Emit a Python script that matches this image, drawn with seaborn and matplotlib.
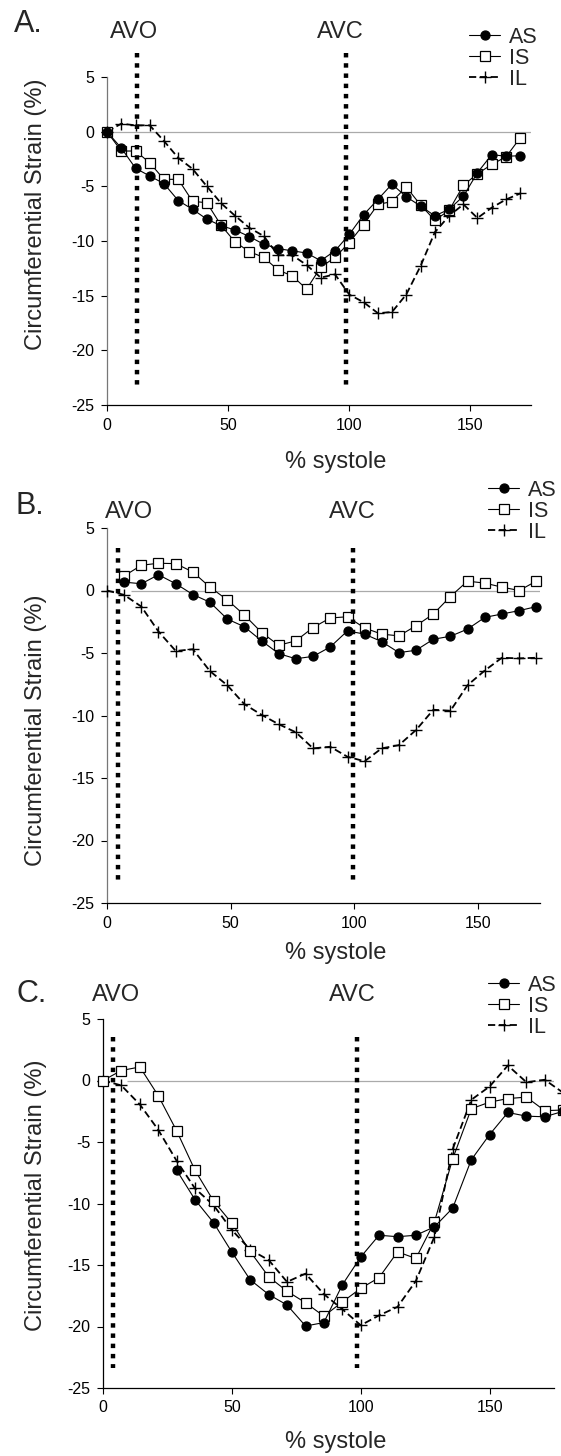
import numpy as np
import pandas as pd
import matplotlib
matplotlib.use('Agg')
import matplotlib.pyplot as plt
import seaborn as sns

nan = np.nan

# ---- data (% systole vs circumferential strain %) ----
x_a = [0, 5.9, 11.8, 17.6, 23.5, 29.4, 35.3, 41.2, 47.1, 52.9, 58.8, 64.7, 70.6, 76.5, 82.4,
       88.2, 94.1, 100, 105.9, 111.8, 117.6, 123.5, 129.4, 135.3, 141.2, 147.1, 152.9, 158.8,
       164.7, 170.6]
as_a = [0, -1.5, -3.35, -4.05, -4.75, -6.3, -7.1, -8.0, -8.6, -9.0, -9.6, -10.3, -10.7, -10.9,
        -11.1, -11.8, -10.9, -9.4, -7.6, -6.2, -4.8, -5.95, -6.8, -7.7, -7.1, -5.9, -3.75, -2.1,
        -2.25, -2.2]
is_a = [0, -1.77, -1.77, -2.84, -4.36, -4.36, -6.37, -6.5, -8.57, -10.1, -10.98, -11.5, -12.65,
        -13.2, -14.4, -12.4, -11.5, -10.15, -8.5, -6.65, -6.4, -5.06, -6.7, -8.1, -7.2, -4.9,
        -3.85, -3.0, -2.3, -0.55]
il_a = [0, 0.73, 0.58, 0.58, -0.85, -2.4, -3.4, -5.0, -6.55, -7.7, -8.8, -9.55, -11.3, -11.3,
        -12.2, -13.35, -13.05, -14.9, -15.6, -16.6, -16.5, -14.9, -12.3, -9.2, -7.7, -6.65, -7.9,
        -6.95, -6.2, -5.65]

x_b = [0, 6.9, 13.9, 20.8, 27.8, 34.7, 41.6, 48.6, 55.5, 62.5, 69.4, 76.3, 83.3, 90.2, 97.2,
       104.1, 111.0, 118.0, 124.9, 131.9, 138.8, 145.7, 152.7, 159.6, 166.6, 173.5]
as_b = [nan, 0.67, 0.54, 1.26, 0.54, -0.32, -0.94, -2.28, -2.9, -4.03, -5.05, -5.46, -5.27, -4.52,
        -3.23, -3.49, -4.09, -4.97, -4.78, -3.9, -3.66, -3.09, -2.15, -1.88, -1.61, -1.29]
is_b = [nan, 1.16, 2.02, 2.18, 2.15, 1.48, 0.27, -0.75, -1.96, -3.36, -4.38, -4.03, -2.96, -2.2,
        -2.1, -3.0, -3.49, -3.63, -2.82, -1.88, -0.48, 0.75, 0.59, 0.27, 0.0, 0.75]
il_b = [0, -0.35, -1.29, -3.28, -4.84, -4.7, -6.45, -7.58, -9.09, -9.95, -10.7, -11.34, -12.63,
        -12.5, -13.3, -13.66, -12.63, -12.37, -11.16, -9.54, -9.62, -7.58, -6.4, -5.38, -5.43,
        -5.38]

x_c = [0, 7.1, 14.3, 21.4, 28.6, 35.7, 42.9, 50.0, 57.1, 64.3, 71.4, 78.6, 85.7, 92.9, 100.0,
       107.1, 114.3, 121.4, 128.6, 135.7, 142.9, 150.0, 157.1, 164.3, 171.4, 178.6]
as_c = [nan, nan, nan, nan, -7.3, -9.69, -11.56, -13.95, -16.2, -17.4, -18.25, -19.96, -19.68,
        -16.6, -14.35, -12.58, -12.7, -12.58, -11.9, -10.37, -6.45, -4.4, -2.6, -2.9, -2.95, -2.5]
is_c = [0, 0.81, 1.1, -1.22, -4.1, -7.3, -9.8, -11.6, -13.9, -15.96, -17.13, -18.07, -19.16,
        -18.0, -16.9, -16.03, -13.93, -14.47, -11.5, -6.36, -2.3, -1.76, -1.47, -1.35, -2.45, -2.4]
il_c = [0, -0.4, -1.95, -4.0, -6.54, -8.78, -10.14, -12.15, -13.75, -14.6, -16.37, -15.7, -17.37,
        -18.6, -19.9, -19.1, -18.4, -16.3, -12.7, -5.57, -1.57, -0.49, 1.22, -0.14, 0.06, -1.0]

panel_labels = ['A.', 'B.', 'C.']
series_names = ['AS', 'IS', 'IL']
avo_x = [12.5, 4.3, 3.75]
avc_x = [98.8, 99.4, 98.7]
y_ticks = [-25, -20, -15, -10, -5, 0, 5]
x_ticks = [0, 50, 100, 150]

sns.set_style('ticks')
plt.rcParams['font.family'] = ['Liberation Sans', 'DejaVu Sans']
plt.rcParams['axes.unicode_minus'] = False

W, H = 561, 1456
fig = plt.figure(figsize=(W / 100, H / 100), dpi=100)


def box(l, r, t, b):
    return [l / W, 1 - b / H, (r - l) / W, (b - t) / H]


# pixel boxes of the three plot areas (left, right, y=5, y=-25)
boxes = [box(107, 531, 77, 405), box(107, 540, 528, 903), box(103, 554, 1019, 1388)]
# text anchors in pixels
label_xy = [(14, 24), (16, 506), (16, 994)]
avo_xy = [(134, 32), (129, 512), (116, 995)]
avc_xy = [(340, 32), (352, 512), (352, 995)]
legend_xy = [(469, 27), (488, 480), (488, 975)]
xlabel_y = [462, 953, 1442]
ylabel_y = [214, 730, 1195]
dot_top = [7.2, 3.4, 3.5]
zero_from = [0, 9.5, 9.5]
left_spine = ['#777777', '#777777', 'black']

styles = {
    'AS': dict(marker='o', mfc='black', mec='black', ms=6.5, ls='-', lw=0.8),
    'IS': dict(marker='s', mfc='white', mec='black', ms=6.5, ls='-', lw=0.8),
    'IL': dict(marker='+', mfc='none', mec='black', ms=8, mew=1.0, ls=(0, (4, 2)), lw=1.3),
}

panels = [(x_a, as_a, is_a, il_a), (x_b, as_b, is_b, il_b), (x_c, as_c, is_c, il_c)]

for i, (xs, s_as, s_is, s_il) in enumerate(panels):
    ax = fig.add_axes(boxes[i])
    df = pd.DataFrame({'x': xs, 'AS': s_as, 'IS': s_is, 'IL': s_il})

    ax.hlines(0, zero_from[i], 175, color='#aaaaaa', lw=0.9, zorder=1)

    for name in ['IL', 'IS', 'AS']:
        st = styles[name]
        sns.lineplot(data=df.dropna(subset=[name]), x='x', y=name, ax=ax, color='black',
                     marker=st['marker'], markerfacecolor=st['mfc'],
                     markeredgecolor=st['mec'], markersize=st['ms'],
                     markeredgewidth=st.get('mew', 0.9), linestyle=st['ls'],
                     linewidth=st['lw'], label=name, clip_on=False, zorder=3, legend=False)

    for xv in (avo_x[i], avc_x[i]):
        ax.plot([xv, xv], [dot_top[i], -23.4], color='black', lw=3.2,
                ls=(0, (1, 1.3)), solid_capstyle='butt', dash_capstyle='butt',
                clip_on=False, zorder=4)

    ax.set_xlim(0, 175)
    ax.set_ylim(-25, 5)
    ax.set_xticks(x_ticks)
    ax.set_yticks(y_ticks)
    ax.tick_params(direction='out', length=4, width=0.8, labelsize=11.5, pad=5,
                   colors='black')
    ax.set_xlabel('')
    ax.set_ylabel('')
    sns.despine(ax=ax)
    ax.spines['bottom'].set_color('black')
    ax.spines['left'].set_color(left_spine[i])
    ax.spines['bottom'].set_linewidth(0.9)
    ax.spines['left'].set_linewidth(0.9)

    # legend with handles in the original order
    handles, labels = ax.get_legend_handles_labels()
    order = [labels.index(n) for n in series_names]
    lx, ly = legend_xy[i]
    ax.legend([handles[j] for j in order], series_names, loc='upper left',
              bbox_to_anchor=(lx / W, 1 - ly / H), bbox_transform=fig.transFigure,
              frameon=False, fontsize=15.5, handlelength=1.45, handletextpad=0.4,
              labelspacing=0.0, borderpad=0, borderaxespad=0)

    fig.text(label_xy[i][0] / W, 1 - label_xy[i][1] / H, panel_labels[i],
             fontsize=22, ha='left', va='center')
    fig.text(avo_xy[i][0] / W, 1 - avo_xy[i][1] / H, 'AVO', fontsize=17,
             ha='center', va='center')
    fig.text(avc_xy[i][0] / W, 1 - avc_xy[i][1] / H, 'AVC', fontsize=17,
             ha='center', va='center')
    fig.text(336 / W, 1 - xlabel_y[i] / H, '% systole', fontsize=17,
             ha='center', va='center')
    fig.text(36 / W, 1 - ylabel_y[i] / H, 'Circumferential Strain (%)', fontsize=17,
             rotation=90, ha='center', va='center')

fig.savefig('out.png', dpi=100)
